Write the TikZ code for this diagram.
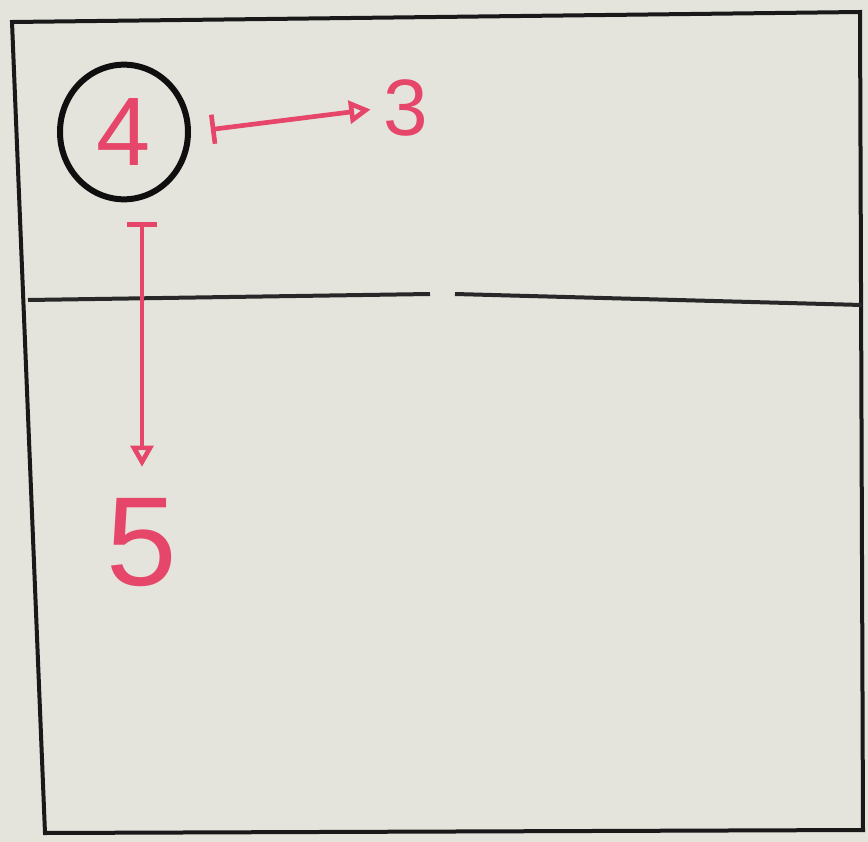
\documentclass[tikz,border=0pt]{standalone}
\usepackage{fontspec}
\setmainfont{Liberation Sans}
\usetikzlibrary{arrows.meta,shapes.geometric}

\begin{document}
\begin{tikzpicture}[x=0.75pt,y=0.75pt,yscale=-1,xscale=1]
%set diagram left start at 0, and has height of 842
\fill [color={rgb, 255:red, 228; green, 228; blue, 220 }] (0,0) rectangle (868,842);
\useasboundingbox (0,0) rectangle (868,842);

%Shape: Frame [id:frame]
\draw [color={rgb, 255:red, 25; green, 25; blue, 25 }  ,draw opacity=1 ][line width=3]   (12,22) -- (860,12) -- (863,830) -- (45,833) -- cycle ;
%Straight Lines [id:divider]
\draw [color={rgb, 255:red, 40; green, 40; blue, 40 }  ,draw opacity=1 ][line width=3]    (28,300) -- (430,294) (455,294) -- (862,305) ;

% Text Node
\draw (124,132) node [ellipse, minimum width=96pt, minimum height=101pt, inner sep=0.75pt, line width=4.5pt, draw={rgb, 255:red, 15; green, 15; blue, 15 }, text={rgb, 255:red, 230; green, 70; blue, 105 }] (four) {\fontsize{73}{73}\selectfont 4};
% Text Node
\draw (406,108) node [color={rgb, 255:red, 230; green, 70; blue, 105 }, inner sep=0.75pt] (three) {\fontsize{60}{60}\selectfont 3};
% Text Node
\draw (142,543) node [color={rgb, 255:red, 230; green, 70; blue, 105 }, inner sep=0.75pt] (five) {\fontsize{95}{95}\selectfont 5};

%Straight Lines [id:to3]
\draw [color={rgb, 255:red, 230; green, 70; blue, 105 }  ,draw opacity=1 ][line width=3.5]  [{Bar[width=22pt]}-{Triangle[open,length=16pt,width=17pt]}, shorten <=15pt, shorten >=9pt]  (four.east) -- (three.west) ;
%Straight Lines [id:to5]
\draw [color={rgb, 255:red, 230; green, 70; blue, 105 }  ,draw opacity=1 ][line width=3.5]  [{Bar[width=22pt]}-{Triangle[open,length=16pt,width=17pt]}, shorten <=15pt, shorten >=23pt]  (four.south -| five.north) -- (five.north) ;

\end{tikzpicture}
\end{document}
